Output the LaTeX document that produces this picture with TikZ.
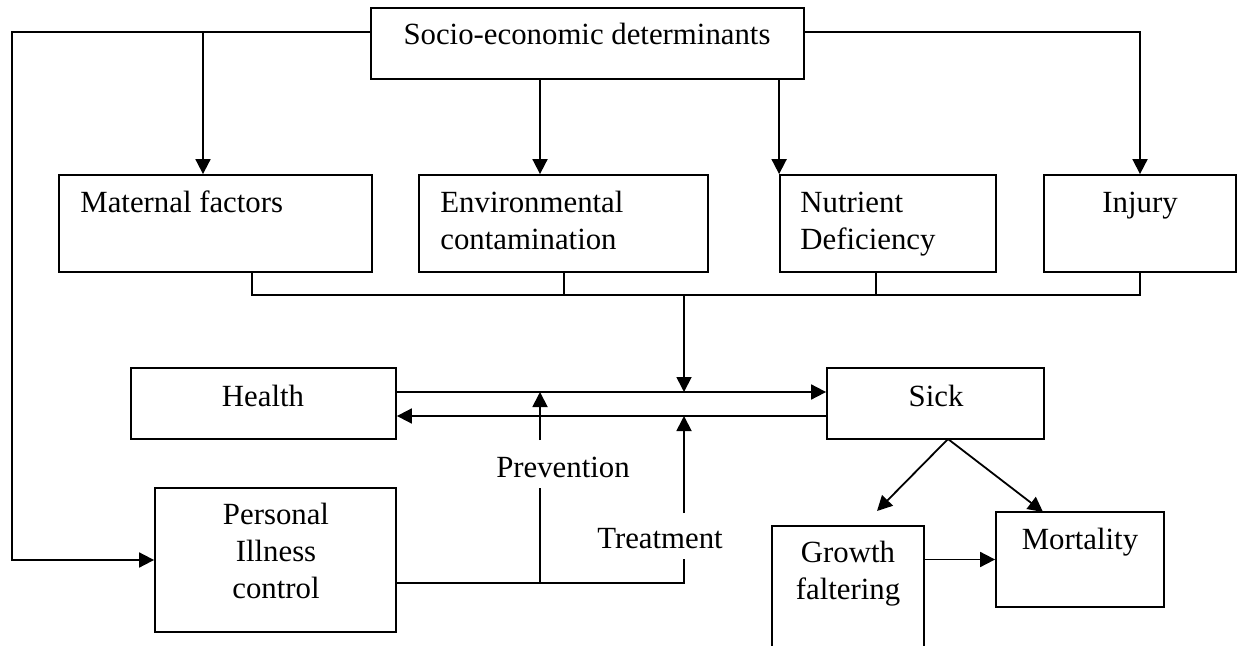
\documentclass[tikz,border=0pt]{standalone}
\usepackage{fontspec}
\setmainfont{Liberation Serif}
\usetikzlibrary{arrows.meta}
\begin{document}
\begin{tikzpicture}[x=0.5pt,y=-0.5pt,
  box/.style={draw,line width=0.9pt,inner sep=0pt},
  txt/.style={inner sep=0pt,font=\fontsize{15.4}{18.5}\selectfont},
  ln/.style={line width=0.9pt},
  arr/.style={line width=0.9pt,-{Triangle[length=7.5pt,width=7.5pt]}}]
\useasboundingbox (0,0) rectangle (1245,646);
% boxes
\node[box,minimum width=216.5pt,minimum height=35.5pt] (soc) at (587.5,43.5) {};
\node[box,minimum width=156.5pt,minimum height=48.5pt] (mat) at (215.5,223.5) {};
\node[box,minimum width=144.5pt,minimum height=48.5pt] (env) at (563.5,223.5) {};
\node[box,minimum width=108pt,minimum height=48.5pt] (nut) at (888,223.5) {};
\node[box,minimum width=96pt,minimum height=48.5pt] (inj) at (1140,223.5) {};
\node[box,minimum width=132.5pt,minimum height=35.5pt] (hea) at (263.5,403.5) {};
\node[box,minimum width=108.5pt,minimum height=35.5pt] (sick) at (935.5,403.5) {};
\node[box,minimum width=120.5pt,minimum height=72pt] (pers) at (275.5,560) {};
\node[box,minimum width=76pt,minimum height=67pt] (gro) at (848,593) {};
\node[box,minimum width=84pt,minimum height=47.5pt] (mor) at (1080,559.5) {};
% texts (multi-line nodes are placed by the baseline of their last line)
\node[txt,anchor=base] (tsoc) at (587,45) {Socio-economic determinants};
\node[txt,anchor=base west] (tmat) at (80,213) {Maternal factors};
\node[txt,anchor=base west,align=left] (tenv) at (440,250) {Environmental\\contamination};
\node[txt,anchor=base west,align=left] (tnut) at (800,250) {Nutrient\\Deficiency};
\node[txt,anchor=base] (tinj) at (1140,213) {Injury};
\node[txt,anchor=base] (thea) at (263,406) {Health};
\node[txt,anchor=base] (tsick) at (936,406) {Sick};
\node[txt,anchor=base,align=center] (tpers) at (276,598) {Personal\\Illness\\control};
\node[txt,anchor=base] (pre) at (563,477) {Prevention};
\node[txt,anchor=base] (tre) at (660,548) {Treatment};
\node[txt,anchor=base,align=center] (tgro) at (848,599) {Growth\\faltering};
\node[txt,anchor=base] (tmor) at (1080,549) {Mortality};
% helper coordinates
\coordinate (tl) at (12,32);
\coordinate (tr) at (1140,32);
\coordinate (ma) at (203,32);
\coordinate (ea) at (540,0);
\coordinate (b1) at (252,295);
\coordinate (b2) at (564,295);
\coordinate (b3) at (876,295);
\coordinate (bus) at (684,295);
\coordinate (y392) at (0,392);
\coordinate (y416) at (0,416);
\coordinate (p1) at (540,440);
\coordinate (p2) at (540,488);
\coordinate (t1) at (684,513);
\coordinate (t2) at (684,559);
\coordinate (ybot) at (0,583);
\coordinate (ss) at (948,439);
\coordinate (g1) at (877,511);
\coordinate (m1) at (1043,512);
% top connectors
\draw[arr] (soc.west |- tl) -- (tl) |- (pers.west);
\draw[arr] (ma) -- (ma |- mat.north);
\draw[arr] (soc.south -| ea) -- (ea |- env.north);
\draw[arr] (soc.south -| nut.north west) -- (nut.north west);
\draw[arr] (soc.east |- tr) -- (tr) -- (inj.north);
% bus
\draw[ln] (mat.south -| b1) -- (b1) -- (b1 -| inj.south) -- (inj.south);
\draw[ln] (env.south -| b2) -- (b2);
\draw[ln] (nut.south -| b3) -- (b3);
\draw[arr] (bus) -- (bus |- y392);
% health <-> sick
\draw[arr] (hea.east |- y392) -- (sick.west |- y392);
\draw[arr] (sick.west |- y416) -- (hea.east |- y416);
% prevention / treatment
\draw[arr] (p1) -- (p1 |- y392);
\draw[arr] (t1) -- (t1 |- y416);
\draw[ln] (pers.east |- ybot) -- (t2 |- ybot) -- (t2);
\draw[ln] (p2 |- ybot) -- (p2);
% sick outcomes
\draw[arr] (ss) -- (g1);
\draw[arr] (ss) -- (m1);
\draw[arr] (gro.east |- mor.west) -- (mor.west);
\end{tikzpicture}
\end{document}
